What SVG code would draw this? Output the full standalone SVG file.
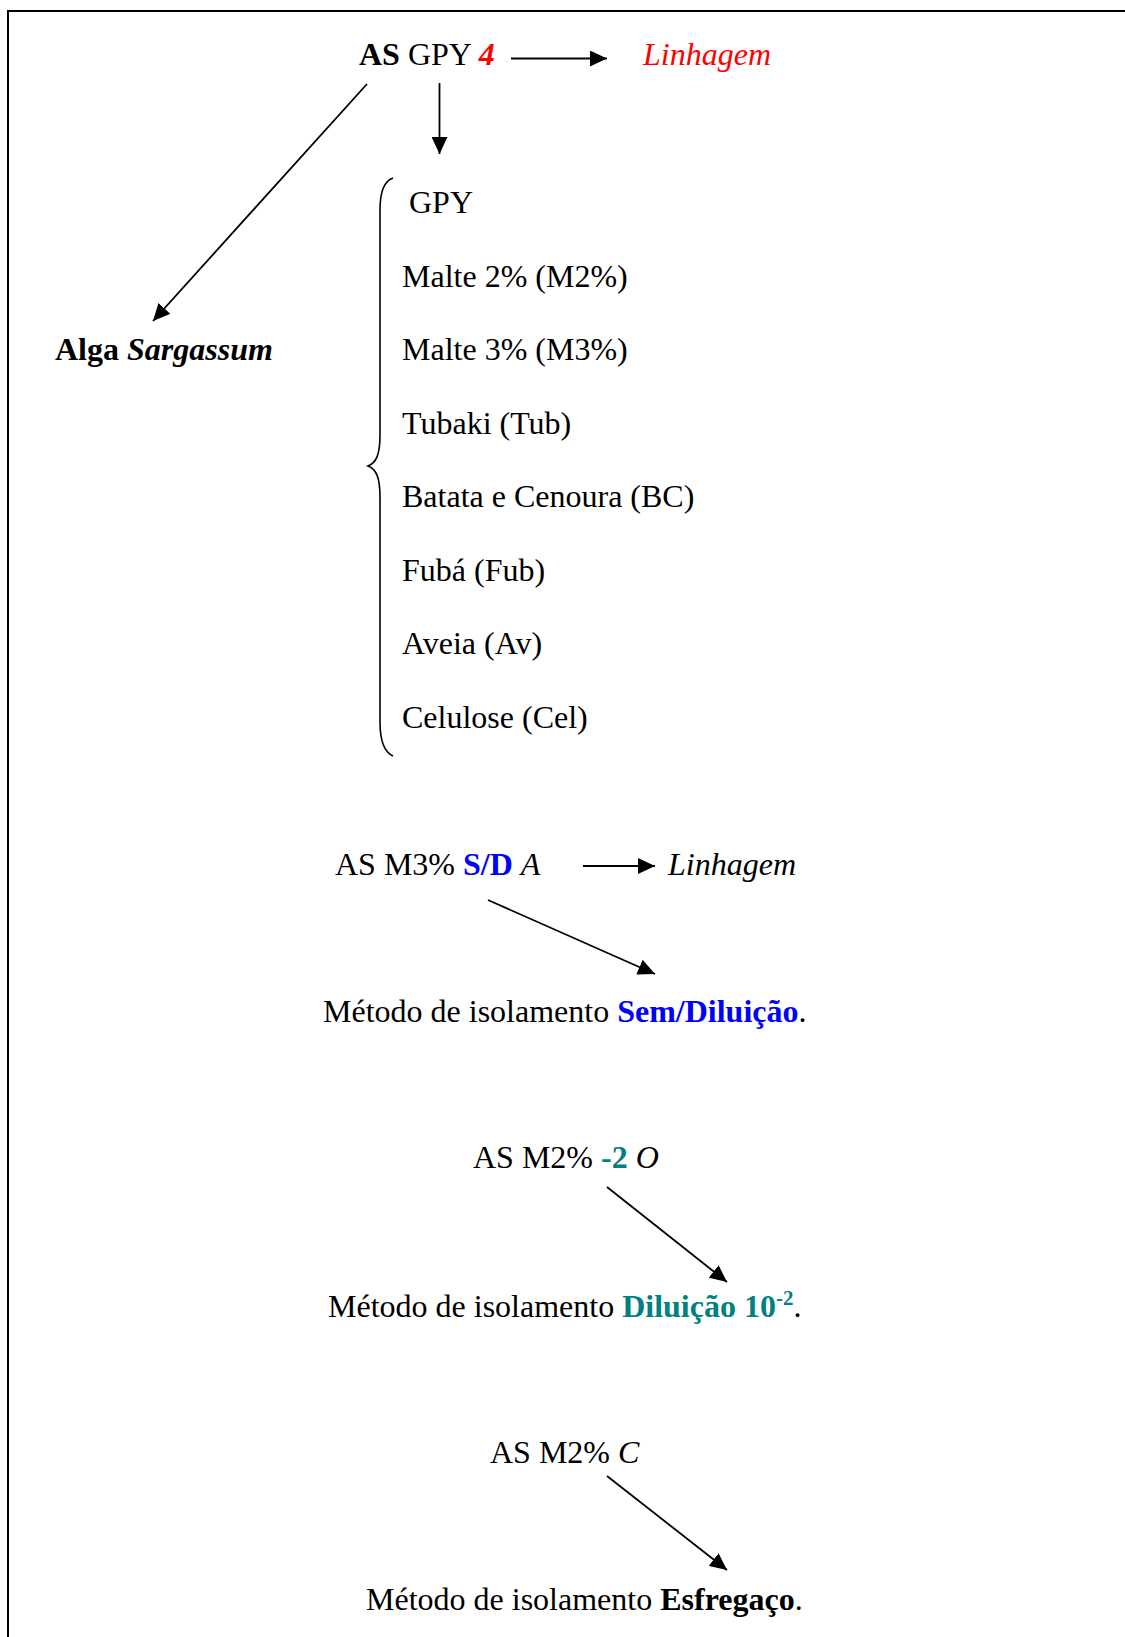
<svg xmlns="http://www.w3.org/2000/svg" width="1125" height="1637" viewBox="0 0 1125 1637">
<style>
text{font-family:"Liberation Serif","Times New Roman",serif;font-size:32px;fill:#000}
.b{font-weight:bold}
.i{font-style:italic}
.red{fill:#FF0000}
.blue{fill:#0000FF}
.teal{fill:#008080}
.c{stroke:#000;stroke-width:1.8;fill:none}
</style>
<defs>
<marker id="ah" markerUnits="userSpaceOnUse" markerWidth="18" markerHeight="16" refX="17" refY="8" orient="auto">
<path d="M0,0 L17,8 L0,16 z" fill="#000"/>
</marker>
</defs>
<rect x="8" y="11" width="1140" height="1650" fill="#fff" stroke="#000" stroke-width="2"/>
<g id="connectors">
<line class="c" x1="511" y1="58.5" x2="607" y2="58.5" marker-end="url(#ah)"/>
<line class="c" x1="439.5" y1="83" x2="439.5" y2="154" marker-end="url(#ah)"/>
<line class="c" x1="367" y1="84" x2="153" y2="321" marker-end="url(#ah)"/>
<line class="c" x1="583" y1="866" x2="655" y2="866" marker-end="url(#ah)"/>
<line class="c" x1="488" y1="900" x2="655" y2="974" marker-end="url(#ah)"/>
<line class="c" x1="607" y1="1187" x2="727" y2="1282" marker-end="url(#ah)"/>
<line class="c" x1="607" y1="1476" x2="727" y2="1570" marker-end="url(#ah)"/>
</g>
<g id="node-asgpy4"><text x="359" y="65"><tspan class="b">AS</tspan> GPY <tspan class="b i red">4</tspan></text></g>
<g id="node-linhagem1"><text x="643" y="65" class="i red">Linhagem</text></g>
<g id="node-alga"><text x="55" y="360" class="b">Alga <tspan class="i">Sargassum</tspan></text></g>
<g id="node-media">
<path d="M393,178 C384,181 380,192 380,210 L380,435 C380,455 376,463 368,466 C376,469 380,477 380,497 L380,722 C380,740 384,752 393,756" stroke="#000" stroke-width="1.6" fill="none"/>
<text x="409" y="213">GPY</text>
<text x="402" y="287">Malte 2% (M2%)</text>
<text x="402" y="360">Malte 3% (M3%)</text>
<text x="402" y="434">Tubaki (Tub)</text>
<text x="402" y="507">Batata e Cenoura (BC)</text>
<text x="402" y="581">Fubá (Fub)</text>
<text x="402" y="654">Aveia (Av)</text>
<text x="402" y="728">Celulose (Cel)</text>
</g>
<g id="node-asm3sda"><text x="335" y="875">AS M3% <tspan class="b blue">S/D</tspan> <tspan class="i">A</tspan></text></g>
<g id="node-linhagem2"><text x="668" y="875" class="i">Linhagem</text></g>
<g id="node-semdiluicao"><text x="323" y="1022">Método de isolamento <tspan class="b blue">Sem/Diluição</tspan>.</text></g>
<g id="node-asm2-2o"><text x="473" y="1168">AS M2% <tspan class="b teal">-2</tspan> <tspan class="i">O</tspan></text></g>
<g id="node-diluicao"><text x="328" y="1317">Método de isolamento <tspan class="b teal">Diluição 10</tspan><tspan class="b teal" font-size="21" dy="-12">-2</tspan><tspan dy="12">.</tspan></text></g>
<g id="node-asm2c"><text x="490" y="1463">AS M2% <tspan class="i">C</tspan></text></g>
<g id="node-esfregaco"><text x="366" y="1610">Método de isolamento <tspan class="b">Esfregaço</tspan>.</text></g>
</svg>
